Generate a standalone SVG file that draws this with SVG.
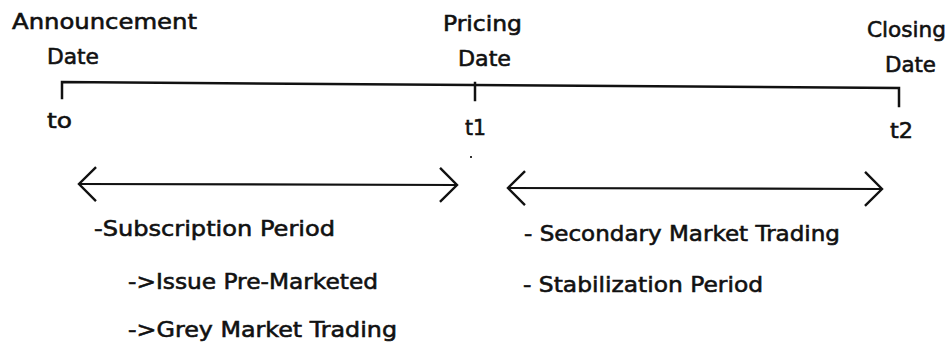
<svg xmlns="http://www.w3.org/2000/svg" width="952" height="347" viewBox="0 0 952 347">
  <style>
    text { font-family: "DejaVu Sans", "Open Sans", sans-serif; font-size: 22px; fill: #111; stroke: #111; stroke-width: 0.6; }
    .line { fill: none; stroke: #111; stroke-width: 2.5; stroke-linecap: square; }
    .span { fill: none; stroke: #111; stroke-width: 2.2; }
  </style>
  <defs>
    <marker id="chevron" viewBox="-20 -19 22 38" refX="0" refY="0" markerWidth="22" markerHeight="38" markerUnits="userSpaceOnUse" orient="auto-start-reverse">
      <path d="M -17,-17 L 0,0 L -17,17" fill="none" stroke="#111" stroke-width="2.4"/>
    </marker>
  </defs>
  <rect width="952" height="347" fill="#fff"/>

  <!-- timeline with date ticks -->
  <g id="timeline">
    <polyline class="line" points="62,98 62,82 899,88 899,106"/>
    <line class="line" x1="475" y1="83" x2="475" y2="100"/>
  </g>

  <g id="announcement-date">
    <text x="12" y="29" textLength="185" lengthAdjust="spacingAndGlyphs">Announcement</text>
    <text x="47" y="64" textLength="52" lengthAdjust="spacingAndGlyphs">Date</text>
    <text x="47" y="128" textLength="25" lengthAdjust="spacingAndGlyphs">to</text>
  </g>

  <g id="pricing-date">
    <text x="443" y="31" textLength="79" lengthAdjust="spacingAndGlyphs">Pricing</text>
    <text x="458" y="66" textLength="53" lengthAdjust="spacingAndGlyphs">Date</text>
    <text x="465" y="135" textLength="21" lengthAdjust="spacingAndGlyphs">t1</text>
    <rect x="470" y="156" width="2" height="2" fill="#333"/>
  </g>

  <g id="closing-date">
    <text x="867" y="37" textLength="79" lengthAdjust="spacingAndGlyphs">Closing</text>
    <text x="885" y="72" textLength="51" lengthAdjust="spacingAndGlyphs">Date</text>
    <text x="890" y="138" textLength="23" lengthAdjust="spacingAndGlyphs">t2</text>
  </g>

  <!-- period spans -->
  <g id="connectors">
    <line class="span" x1="79" y1="184" x2="457" y2="185" marker-start="url(#chevron)" marker-end="url(#chevron)"/>
    <line class="span" x1="508" y1="188" x2="882" y2="189" marker-start="url(#chevron)" marker-end="url(#chevron)"/>
  </g>

  <g id="subscription-period">
    <text x="94" y="236" textLength="241" lengthAdjust="spacingAndGlyphs">-Subscription Period</text>
    <text x="128" y="289" textLength="250" lengthAdjust="spacingAndGlyphs">-&gt;Issue Pre-Marketed</text>
    <text x="128" y="337" textLength="269" lengthAdjust="spacingAndGlyphs">-&gt;Grey Market Trading</text>
  </g>

  <g id="secondary-period">
    <text x="524" y="241" textLength="316" lengthAdjust="spacingAndGlyphs">- Secondary Market Trading</text>
    <text x="523" y="292" textLength="240" lengthAdjust="spacingAndGlyphs">- Stabilization Period</text>
  </g>
</svg>
